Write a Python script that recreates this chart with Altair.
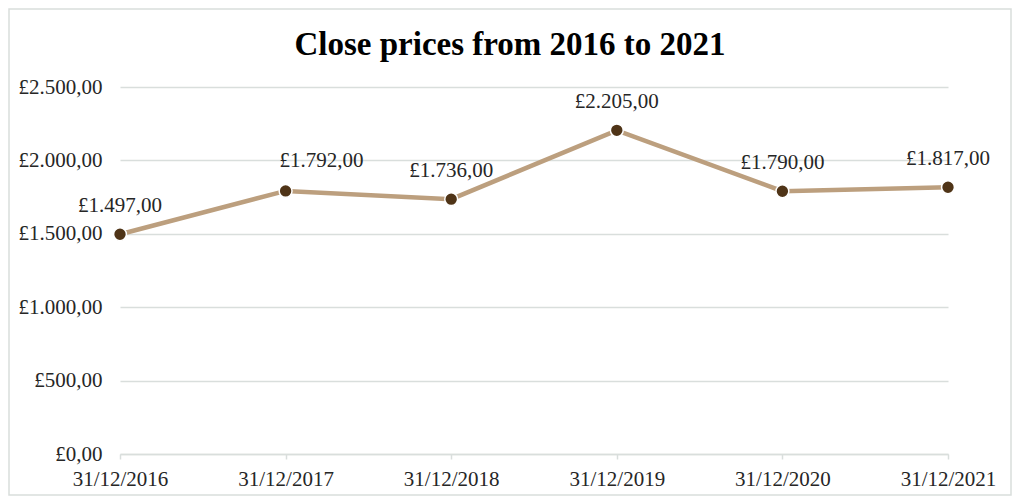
import altair as alt
import pandas as pd

dates = ["31/12/2016", "31/12/2017", "31/12/2018", "31/12/2019", "31/12/2020", "31/12/2021"]
closes = [1497, 1792, 1736, 2205, 1790, 1817]
y_ticks = [0, 500, 1000, 1500, 2000, 2500]
title_text = "Close prices from 2016 to 2021"
shifted_label = "31/12/2017"

df = pd.DataFrame({"date": dates, "close": closes})

fmt = "'£' + replace(replace(replace(format({v}, ',.2f'), ',', '_'), '.', ','), '_', '.')"
FONT = "Liberation Serif"

base = alt.Chart(df).encode(
    x=alt.X("date:N", sort=dates, scale=alt.Scale(type="point", padding=0),
            axis=alt.Axis(title=None, labelAngle=0, labelFont=FONT, labelFontSize=21,
                          labelColor="#262626", domainColor="#D9DEDC", domainWidth=1.5,
                          tickColor="#D9DEDC", tickSize=5, tickWidth=1.5, labelPadding=9,
                          grid=False)),
    y=alt.Y("close:Q", scale=alt.Scale(domain=[0, 2500], nice=False),
            axis=alt.Axis(title=None, values=y_ticks, labelExpr=fmt.format(v="datum.value"),
                          labelFont=FONT, labelFontSize=21, labelColor="#262626",
                          labelPadding=18, domain=False, ticks=False,
                          gridColor="#D9DEDC", gridWidth=1.5)),
)

line = base.mark_line(color="#BC9F7E", strokeWidth=4.5)
points = base.mark_point(filled=True, size=165, color="#4F3417", stroke="white",
                         strokeWidth=1.5, opacity=1)
label_base = base.transform_calculate(lbl=fmt.format(v="datum.close"))
labels = label_base.transform_filter(
    alt.datum.date != shifted_label
).mark_text(font=FONT, fontSize=21, color="#262626", dy=-28, baseline="middle").encode(
    text="lbl:N"
)
labels_shifted = label_base.transform_filter(
    alt.datum.date == shifted_label
).mark_text(font=FONT, fontSize=21, color="#262626", dy=-30, dx=36, baseline="middle").encode(
    text="lbl:N"
)

border = alt.Chart(pd.DataFrame({"a": [0]})).mark_rect(
    fill=None, stroke="#D9DEDC", strokeWidth=1.5
).encode(
    x=alt.value(-111), x2=alt.value(891), y=alt.value(-78), y2=alt.value(408)
)

title = alt.Chart(pd.DataFrame({"t": [title_text]})).mark_text(
    font=FONT, fontSize=33, fontWeight="bold", color="#000000",
    align="center", baseline="alphabetic"
).encode(
    x=alt.value(390), y=alt.value(-32), text="t:N"
)

chart = alt.layer(border, line, points, labels, labels_shifted, title).properties(
    width=828,
    height=367,
    autosize=alt.AutoSizeParams(type="none"),
    padding={"left": 112, "top": 79, "right": 64, "bottom": 42},
).configure_view(stroke=None)

chart.save("out.html", embed_options={"renderer": "svg", "actions": False})
